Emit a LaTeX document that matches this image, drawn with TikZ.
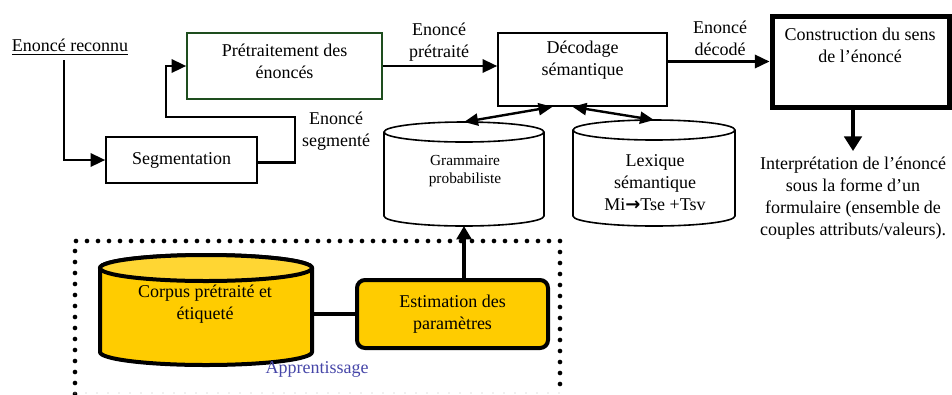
\documentclass[tikz,border=0pt]{standalone}
\usepackage{fontspec}
\setmainfont{Liberation Serif}
\newfontfamily\symf{DejaVu Sans}
\usetikzlibrary{arrows.meta,calc}
\definecolor{yel}{HTML}{FFCC00}
\definecolor{yeltop}{HTML}{FFD633}
\definecolor{appblue}{HTML}{4646A8}
\definecolor{dgreen}{HTML}{1E4D1E}
\newcommand\fs{\fontsize{13.5pt}{16.5pt}\selectfont}
\newcommand\fsm{\fontsize{11.5pt}{13.5pt}\selectfont}
\tikzset{
  box/.style={draw,line width=1.2pt,inner sep=0pt,align=center,font=\fs},
  txt/.style={align=center,font=\fs,inner sep=0pt},
  frame/.style={inner sep=0pt,outer sep=0pt},
  arr/.style={line width=1.8pt,-{Triangle[length=11pt,width=10pt]}},
  darr/.style={line width=1.8pt,{Triangle[length=10.5pt,width=9pt]}-{Triangle[length=10.5pt,width=9pt]}},
  bigarr/.style={line width=3pt,-{Triangle[length=11pt,width=13pt]}},
  midarr/.style={line width=3pt,-{Triangle[length=10pt,width=11pt]}},
  cylline/.style={line width=1.2pt},
  dots/.style={line width=3.5pt,line cap=round,dash pattern=on 0pt off 8.25pt}
}
\begin{document}
\begin{tikzpicture}[x=0.75pt,y=-0.75pt]
\useasboundingbox (0,0) rectangle (952,394);

% top row
\node[txt] (rec) at (70,47) {\underline{Enoncé reconnu}};
\node[box,minimum width=113.25pt,minimum height=34.5pt] (seg) at (181.5,160) {Segmentation};
\node[box,draw=dgreen,minimum width=146.25pt,minimum height=49.5pt] (pre) at (284.5,66) {};
\node[txt] (pret) at (284.5,61) {Prétraitement des\\énoncés};
\node[box,minimum width=126.75pt,minimum height=54.75pt] (dec) at (582.5,69.5) {};
\node[txt] (dect) at (582.5,60) {Décodage\\sémantique};
\node[box,line width=3.75pt,minimum width=132.75pt,minimum height=68.25pt] (cons) at (860.5,61.5) {};
\node[txt] (const) at (860,45) {Construction du sens\\de l’énoncé};
\node[txt,inner sep=4.5pt] (interp) at (853,198.5) {Interprétation de l’énoncé\\sous la forme d’un\\formulaire (ensemble de\\couples attributs/valeurs).};

% labels
\node[txt] (lseg) at (336,131) {Enoncé\\segmenté};
\node[txt] (lpre) at (439,42) {Enoncé\\prétraité};
\node[txt] (ldec) at (720,38) {Enoncé\\décodé};

% cylinders (white)
\node[frame,minimum width=120pt,minimum height=78pt] (gr) at (464,174) {};
\draw[cylline,fill=white] ([yshift=-7.5pt]gr.north west) -- ([yshift=7.5pt]gr.south west)
  arc[start angle=180,end angle=360,x radius=60pt,y radius=7.5pt]
  -- ([yshift=-7.5pt]gr.north east)
  arc[start angle=0,end angle=180,x radius=60pt,y radius=7.5pt] -- cycle;
\draw[cylline] ([yshift=-7.5pt]gr.north west) arc[start angle=180,end angle=360,x radius=60pt,y radius=7.5pt];
\node[align=center,font=\fsm,inner sep=0pt] (grt) at (465,171) {Grammaire\\probabiliste};

\node[frame,minimum width=121.5pt,minimum height=79.5pt] (lex) at (654,173) {};
\draw[cylline,fill=white] ([yshift=-7.5pt]lex.north west) -- ([yshift=7.5pt]lex.south west)
  arc[start angle=180,end angle=360,x radius=60.75pt,y radius=7.5pt]
  -- ([yshift=-7.5pt]lex.north east)
  arc[start angle=0,end angle=180,x radius=60.75pt,y radius=7.5pt] -- cycle;
\draw[cylline] ([yshift=-7.5pt]lex.north west) arc[start angle=180,end angle=360,x radius=60.75pt,y radius=7.5pt];
\node[txt] (lext) at (655,183) {Lexique\\sémantique\\Mi{\symf\bfseries →}Tse +Tsv};

% learning block
\draw[dots] (75,394) -- (75,241) -- (560,241) -- (560,394);
\draw[gray!50,line width=0.8pt,line cap=round,dash pattern=on 0pt off 8.25pt] (75,393) -- (560,393);

\node[frame,minimum width=159pt,minimum height=82.5pt] (cor) at (206,310) {};
\draw[line width=3pt,fill=yel] ([yshift=-9.75pt]cor.north west) -- ([yshift=9.75pt]cor.south west)
  arc[start angle=180,end angle=360,x radius=79.5pt,y radius=9.75pt]
  -- ([yshift=-9.75pt]cor.north east)
  arc[start angle=0,end angle=180,x radius=79.5pt,y radius=9.75pt] -- cycle;
\draw[line width=3pt,fill=yeltop] ([yshift=-9.75pt]cor.north) ellipse[x radius=79.5pt,y radius=9.75pt];
\node[txt] (cort) at (205,304) {Corpus prétraité et\\étiqueté};

\node[box,line width=3pt,fill=yel,rounded corners=6pt,minimum width=143.25pt,minimum height=51pt] (est) at (452.5,314) {Estimation des\\paramètres};
\node[txt,text=appblue] (app) at (317,369) {Apprentissage};

% connectors
\draw[arr] ([xshift=-4.5pt,yshift=-4pt]rec.south) |- (seg.west);
\coordinate (s1) at (295,117);
\coordinate (s2) at (166,117);
\draw[arr] ([yshift=-2pt]seg.east) -| (s1) -- (s2) |- (pre.west);
\draw[arr] (pre.east) -- (dec.west |- pre.east);
\draw[arr] (dec.east |- cons.west) -- (cons.west);
\draw[bigarr] (cons.south -| interp.north) -- (interp.north);
\draw[darr] (gr.north) -- ($(dec.south)+(-30,0)$);
\draw[darr] ($(dec.south)+(-10,0)$) -- (lex.north);
\draw[midarr] (est.north -| gr.south) -- (gr.south);
\draw[line width=3pt] (cor.east |- est.west) -- (est.west);
\end{tikzpicture}
\end{document}
